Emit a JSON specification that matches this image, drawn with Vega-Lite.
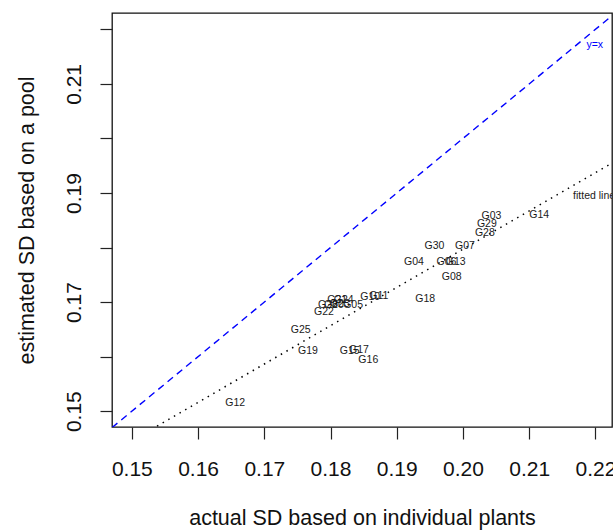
{
  "$schema": "https://vega.github.io/schema/vega-lite/v6.json",
  "width": 500,
  "height": 414,
  "autosize": {"type": "none"},
  "padding": {"left": 112, "top": 13, "right": 1, "bottom": 104},
  "background": "white",
  "config": {
    "font": "Liberation Sans",
    "view": {"stroke": "#111111", "strokeWidth": 1.3},
    "axis": {"grid": false, "domain": false, "tickColor": "#222222", "tickWidth": 1.2, "tickSize": 12, "labelColor": "#111111", "titleColor": "#111111", "labelFontSize": 21, "titleFontSize": 21.5, "titleFontWeight": "normal", "labelFlush": false, "labelOverlap": false}
  },
  "datasets": {
    "groups": [
      {"grp": "G03", "actual": 0.2043, "pooled": 0.1857},
      {"grp": "G29", "actual": 0.2036, "pooled": 0.1843},
      {"grp": "G28", "actual": 0.2033, "pooled": 0.1826},
      {"grp": "G14", "actual": 0.2115, "pooled": 0.1859},
      {"grp": "G30", "actual": 0.1957, "pooled": 0.1802},
      {"grp": "G07", "actual": 0.2003, "pooled": 0.1802},
      {"grp": "G04", "actual": 0.1926, "pooled": 0.1774},
      {"grp": "G06", "actual": 0.1975, "pooled": 0.1774},
      {"grp": "G13", "actual": 0.1989, "pooled": 0.1774},
      {"grp": "G08", "actual": 0.1983, "pooled": 0.1746},
      {"grp": "G18", "actual": 0.1943, "pooled": 0.1706},
      {"grp": "G10", "actual": 0.1860, "pooled": 0.1710},
      {"grp": "G11", "actual": 0.1873, "pooled": 0.1712},
      {"grp": "G21", "actual": 0.1810, "pooled": 0.1703},
      {"grp": "G24", "actual": 0.1820, "pooled": 0.1703},
      {"grp": "G26", "actual": 0.1796, "pooled": 0.1695},
      {"grp": "G20", "actual": 0.1805, "pooled": 0.1695},
      {"grp": "G23", "actual": 0.1814, "pooled": 0.1697},
      {"grp": "G05", "actual": 0.1834, "pooled": 0.1695},
      {"grp": "G22", "actual": 0.1790, "pooled": 0.1682},
      {"grp": "G25", "actual": 0.1755, "pooled": 0.1648},
      {"grp": "G19", "actual": 0.1766, "pooled": 0.1611},
      {"grp": "G15", "actual": 0.1829, "pooled": 0.1610},
      {"grp": "G17", "actual": 0.1843, "pooled": 0.1613},
      {"grp": "G16", "actual": 0.1857, "pooled": 0.1594},
      {"grp": "G12", "actual": 0.1656, "pooled": 0.1515}
    ],
    "identity": [
      {"actual": 0.147, "pooled": 0.147},
      {"actual": 0.2235, "pooled": 0.2235}
    ],
    "fitted": [
      {"actual": 0.147, "pooled": 0.1425},
      {"actual": 0.2235, "pooled": 0.1962}
    ],
    "notes": [
      {"note": "y=x", "actual": 0.2199, "pooled": 0.2172},
      {"note": "fitted line", "actual": 0.2198, "pooled": 0.1894}
    ]
  },
  "layer": [
    {
      "data": {"name": "identity"},
      "mark": {"type": "line", "clip": true, "color": "#0000FF", "strokeWidth": 1.4, "strokeDash": [7, 5]},
      "encoding": {
        "x": {"field": "actual", "type": "quantitative", "scale": {"domain": [0.147, 0.2225], "nice": false, "zero": false},
          "axis": {"values": [0.15, 0.16, 0.17, 0.18, 0.19, 0.2, 0.21, 0.22], "format": ".2f", "title": "actual SD based on individual plants", "labelBaseline": "alphabetic", "labelPadding": 36.5, "titleY": 97, "titleBaseline": "alphabetic"}},
        "y": {"field": "pooled", "type": "quantitative", "scale": {"domain": [0.1471, 0.223], "nice": false, "zero": false},
          "axis": {"values": [0.15, 0.16, 0.17, 0.18, 0.19, 0.2, 0.21, 0.22], "format": ".2f", "labelExpr": "round(datum.value*100) % 2 == 1 ? datum.label : ''", "title": "estimated SD based on a pool", "labelAngle": 270, "labelAlign": "center", "labelBaseline": "alphabetic", "labelPadding": 20, "titleX": -79, "titleAngle": 270, "titleBaseline": "alphabetic", "titleAlign": "center"}}
      }
    },
    {
      "data": {"name": "fitted"},
      "mark": {"type": "line", "clip": true, "color": "#000000", "strokeWidth": 1.5, "strokeDash": [1.5, 5]},
      "encoding": {
        "x": {"field": "actual", "type": "quantitative", "scale": {"domain": [0.147, 0.2225], "nice": false, "zero": false}},
        "y": {"field": "pooled", "type": "quantitative", "scale": {"domain": [0.1471, 0.223], "nice": false, "zero": false}}
      }
    },
    {
      "data": {"name": "groups"},
      "mark": {"type": "text", "clip": true, "fontSize": 10.5, "color": "#1a1a1a", "align": "center", "baseline": "middle"},
      "encoding": {
        "x": {"field": "actual", "type": "quantitative", "scale": {"domain": [0.147, 0.2225], "nice": false, "zero": false}},
        "y": {"field": "pooled", "type": "quantitative", "scale": {"domain": [0.1471, 0.223], "nice": false, "zero": false}},
        "text": {"field": "grp"}
      }
    },
    {
      "data": {"name": "notes"},
      "transform": [{"filter": "datum.note == 'y=x'"}],
      "mark": {"type": "text", "clip": true, "fontSize": 10.5, "color": "#0000FF", "align": "center", "baseline": "middle"},
      "encoding": {
        "x": {"field": "actual", "type": "quantitative", "scale": {"domain": [0.147, 0.2225], "nice": false, "zero": false}},
        "y": {"field": "pooled", "type": "quantitative", "scale": {"domain": [0.1471, 0.223], "nice": false, "zero": false}},
        "text": {"field": "note"}
      }
    },
    {
      "data": {"name": "notes"},
      "transform": [{"filter": "datum.note == 'fitted line'"}],
      "mark": {"type": "text", "clip": true, "fontSize": 10.5, "color": "#1a1a1a", "align": "center", "baseline": "middle"},
      "encoding": {
        "x": {"field": "actual", "type": "quantitative", "scale": {"domain": [0.147, 0.2225], "nice": false, "zero": false}},
        "y": {"field": "pooled", "type": "quantitative", "scale": {"domain": [0.1471, 0.223], "nice": false, "zero": false}},
        "text": {"field": "note"}
      }
    }
  ]
}
